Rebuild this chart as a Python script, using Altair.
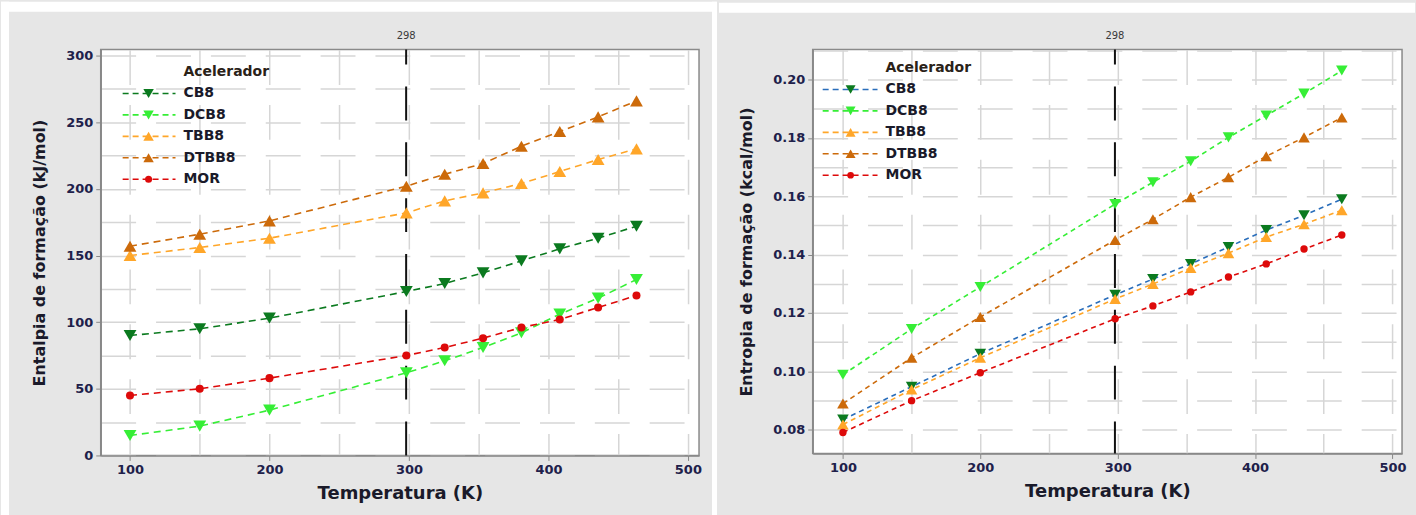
import altair as alt
import pandas as pd

# ---------------- data ----------------
T = [100, 150, 200, 298.15, 325.65, 353.15, 380.65, 408.15, 435.65, 463.15]
SERIES = ["CB8", "DCB8", "TBB8", "DTBB8", "MOR"]

# Entalpia de formação (kJ/mol)
H_CB8 = [90, 95, 103, 123, 129, 137, 146, 155, 163, 172]
H_DCB8 = [15, 22, 34, 62, 71, 81, 92, 106, 118, 132]
H_TBB8 = [150, 156, 163, 182, 191, 197, 204, 213, 222, 230]
H_DTBB8 = [157, 166, 176, 202, 211, 219, 232, 243, 254, 266]
H_MOR = [45, 50, 58, 75, 81, 88, 96, 102, 111, 120]

# Entropia de formação (kcal/mol)
S_CB8 = [0.0834, 0.0947, 0.1060, 0.1262, 0.1316, 0.1368, 0.1426, 0.1484, 0.1535, 0.1590]
S_DCB8 = [0.0988, 0.1145, 0.1289, 0.1573, 0.1648, 0.1720, 0.1802, 0.1877, 0.1952, 0.2031]
S_TBB8 = [0.0817, 0.0937, 0.1046, 0.1248, 0.1299, 0.1354, 0.1405, 0.1460, 0.1504, 0.1552]
S_DTBB8 = [0.0889, 0.1046, 0.1186, 0.1450, 0.1521, 0.1597, 0.1665, 0.1737, 0.1802, 0.1870]
S_MOR = [0.0790, 0.0899, 0.0995, 0.1180, 0.1224, 0.1272, 0.1323, 0.1368, 0.1419, 0.1467]

MARKER_COLORS = ["#0b7a1f", "#36ee36", "#ffa629", "#cc6a0a", "#dd0a0a"]
LINE_COLORS_LEFT = ["#0b7a1f", "#36ee36", "#ffa629", "#cc6a0a", "#dd0a0a"]
LINE_COLORS_RIGHT = ["#2a6ebb", "#36ee36", "#ffa629", "#cc6a0a", "#dd0a0a"]
SHAPES = ["triangle-down", "triangle-down", "triangle-up", "triangle-up", "circle"]

REF_T = [298]
REF_LABEL = ["298"]
LEGEND_TITLE = "Acelerador"

X_TICKS = [100, 150, 200, 250, 300, 350, 400, 450, 500]
H_TICKS = [0, 25, 50, 75, 100, 125, 150, 175, 200, 225, 250, 275, 300]
S_TICKS = [0.08, 0.09, 0.10, 0.11, 0.12, 0.13, 0.14, 0.15, 0.16, 0.17, 0.18, 0.19, 0.20, 0.21]

# ---------------- style ----------------
FONT = "DejaVu Sans"
LABEL_COLOR = "#20204a"
TITLE_COLOR = "#1a1a2a"
BG = "#e6e6e6"
GRID = "#d6d6d6"


def strip(x1, x2, y1, y2, color="white"):
    return alt.Chart(pd.DataFrame({"k": [0]})).mark_rect(fill=color).encode(
        x=alt.value(x1), x2=alt.value(x2), y=alt.value(y1), y2=alt.value(y2)
    )


def make_panel(values, line_colors, xdom, ydom, yticks, ylabel_test, yfmt, ytitle,
               w, h, leg_y0, leg_sym, leg_txt, msizes, legsizes, dash, strips):
    rows = []
    for name, vals, lc, mc, sh in zip(SERIES, values, line_colors, MARKER_COLORS, SHAPES):
        for t, v in zip(T, vals):
            rows.append(dict(series=name, T=t, v=v, lcolor=lc, mcolor=mc, shape=sh,
                             msize=msizes[sh]))
    df = pd.DataFrame(rows)

    leg = pd.DataFrame(dict(series=SERIES, idx=list(range(len(SERIES))),
                            lcolor=line_colors, mcolor=MARKER_COLORS, shape=SHAPES,
                            msize=[legsizes[s] for s in SHAPES]))

    xscale = alt.Scale(domain=xdom, nice=False, zero=False)
    yscale = alt.Scale(domain=ydom, nice=False, zero=False)
    xaxis = alt.Axis(
        values=X_TICKS, title="Temperatura (K)",
        labelExpr="datum.value % 100 == 0 ? datum.label : ''",
        tickOpacity={"condition": {"test": "datum.value % 100 == 0", "value": 1}, "value": 0},
        titleFont=FONT, titleFontSize=18, titleFontWeight="bold", titleColor=TITLE_COLOR,
        titlePadding=8, labelFont=FONT, labelFontSize=13, labelFontWeight="bold",
        labelColor=LABEL_COLOR, labelPadding=3, labelOverlap=False, labelFlush=False,
        tickSize=5, tickColor="#888888", domainColor="#888888", domainWidth=1.5,
        gridColor=GRID, gridWidth=1.5, gridDash=[35, 20],
    )
    yaxis = alt.Axis(
        values=yticks, title=ytitle, format=yfmt,
        labelExpr=f"{ylabel_test} ? datum.label : ''",
        tickOpacity={"condition": {"test": ylabel_test, "value": 1}, "value": 0},
        titleFont=FONT, titleFontSize=16, titleFontWeight="bold", titleColor=TITLE_COLOR,
        titlePadding=18, labelFont=FONT, labelFontSize=13, labelFontWeight="bold",
        labelColor=LABEL_COLOR, labelPadding=3, labelOverlap=False, labelFlush=False,
        tickSize=5, tickColor="#888888", domainColor="#888888", domainWidth=1.5,
        gridColor=GRID, gridWidth=1.5, gridDash=[35, 20],
    )

    def X(f):
        return alt.X(f, type="quantitative", scale=xscale, axis=xaxis)

    def Y(f):
        return alt.Y(f, type="quantitative", scale=yscale, axis=yaxis)

    k = (ydom[1] - ydom[0]) / h
    ly_expr = f"{ydom[1]} - ({leg_y0} + datum.idx * 21.5) * {k}"

    ref = pd.DataFrame({"T": REF_T, "lab": REF_LABEL})
    ref_rule = alt.Chart(ref).mark_rule(
        color="#111111", strokeWidth=2, strokeDash=[34, 22], strokeDashOffset=19
    ).encode(x=X("T"))
    ref_text = alt.Chart(ref).mark_text(
        font=FONT, fontSize=10, color="#3a3a3a", baseline="middle"
    ).encode(x=X("T"), y=alt.value(-14), text="lab:N")

    lines = alt.Chart(df).mark_line(strokeWidth=1.6, strokeDash=dash).encode(
        x=X("T"), y=Y("v"), detail="series:N",
        stroke=alt.Stroke("lcolor:N", scale=None),
    )
    points = alt.Chart(df).mark_point(filled=True, opacity=1).encode(
        x=X("T"), y=Y("v"),
        fill=alt.Fill("mcolor:N", scale=None),
        shape=alt.Shape("shape:N", scale=None),
        size=alt.Size("msize:Q", scale=None),
    )

    leg_base = alt.Chart(leg).transform_calculate(ly=ly_expr)
    leg_rule = leg_base.mark_rule(strokeWidth=1.6, strokeDash=[6, 4]).encode(
        x=alt.value(leg_sym[0]), x2=alt.value(leg_sym[2]), y=Y("ly"),
        stroke=alt.Stroke("lcolor:N", scale=None),
    )
    leg_pt = leg_base.mark_point(filled=True, opacity=1).encode(
        x=alt.value(leg_sym[1]), y=Y("ly"),
        fill=alt.Fill("mcolor:N", scale=None),
        shape=alt.Shape("shape:N", scale=None),
        size=alt.Size("msize:Q", scale=None),
    )
    leg_txt_layer = leg_base.mark_text(
        font=FONT, fontSize=14, fontWeight="bold", color="#1a1a2a", align="left", baseline="middle"
    ).encode(x=alt.value(leg_txt), y=Y("ly"), text="series:N")
    title_df = pd.DataFrame({"t": [LEGEND_TITLE], "idx": [-1]})
    leg_title = alt.Chart(title_df).transform_calculate(ly=ly_expr).mark_text(
        font=FONT, fontSize=14, fontWeight="bold", color="#2a2218", align="left", baseline="middle"
    ).encode(x=alt.value(leg_txt), y=Y("ly"), text="t:N")

    return alt.layer(
        *strips, ref_rule, ref_text, lines, points, leg_rule, leg_pt, leg_txt_layer, leg_title
    ).properties(width=w, height=h)


left = make_panel(
    [H_CB8, H_DCB8, H_TBB8, H_DTBB8, H_MOR], LINE_COLORS_LEFT,
    [79, 508], [0, 304.5], H_TICKS, "datum.value % 50 == 0", "d",
    "Entalpia de formação (kJ/mol)", 600, 407,
    leg_y0=44, leg_sym=(22, 48, 75), leg_txt=83,
    msizes={"triangle-down": 165, "triangle-up": 165, "circle": 65},
    legsizes={"triangle-down": 110, "triangle-up": 110, "circle": 50},
    dash=[7, 5],
    strips=[
        strip(-100, -92, -48, 467),
        strip(-100, 618, -48, -38),
        strip(613, 618, -48, 467),
    ],
)

right = make_panel(
    [S_CB8, S_DCB8, S_TBB8, S_DTBB8, S_MOR], LINE_COLORS_RIGHT,
    [78, 507], [0.0718, 0.2103], S_TICKS, "round(datum.value * 100) % 2 == 0", ".2f",
    "Entropia de formação (kcal/mol)", 591, 405,
    leg_y0=40, leg_sym=(10, 38, 65), leg_txt=73,
    msizes={"triangle-down": 135, "triangle-up": 135, "circle": 55},
    legsizes={"triangle-down": 100, "triangle-up": 100, "circle": 45},
    dash=[5, 4],
    strips=[
        strip(-94, 604, -47, -37),
        strip(-94, 604, 467, 468, color=BG),
    ],
)

chart = alt.hconcat(left, right, spacing=0).properties(
    padding=0, background=BG
).configure_view(fill="white", stroke="#8a8a8a", strokeWidth=1.5)

chart.save("out.html", embed_options={"renderer": "svg", "actions": False})
